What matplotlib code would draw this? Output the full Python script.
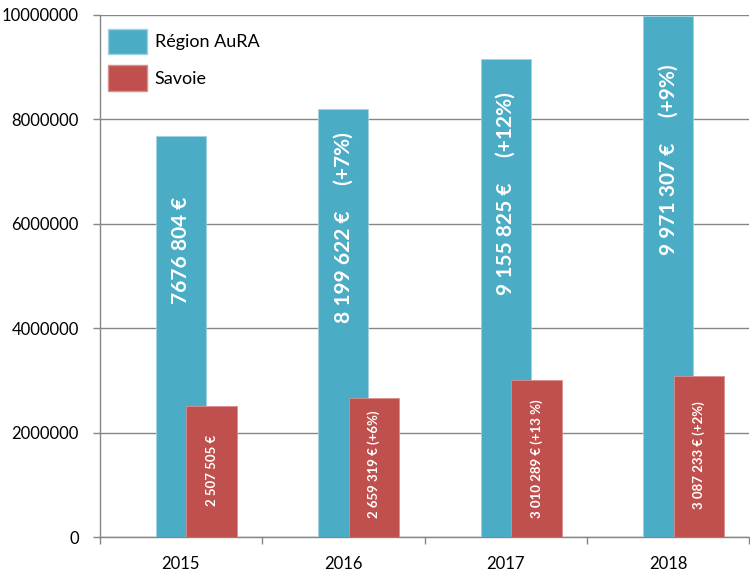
import matplotlib
matplotlib.use("Agg")
import matplotlib.pyplot as plt
from matplotlib.patches import Patch
import numpy as np

plt.rcParams['font.family'] = ['Lato', 'DejaVu Sans']

years = ['2015', '2016', '2017', '2018']
aura = [7676804, 8199622, 9155825, 9971307]
savoie = [2507505, 2659319, 3010289, 3087233]
aura_labels = ['7676 804 €', '8 199 622 €     (+7%)', '9 155 825 €     (+12%)', '9 971 307 €     (+9%)']
savoie_labels = ['2 507 505 €', '2 659 319 € (+6%)', '3 010 289 € (+13 %)', '3 087 233 € (+2%)']
# vertical centre of each rotated label, in data units
aura_label_y = [5500000, 5920000, 6570000, 7220000]
savoie_label_y = [1280000, 1400000, 1500000, 1570000]

blue = '#4BACC6'
red = '#C0504D'
grey = '#868686'

fig = plt.figure(figsize=(7.5, 5.76), dpi=100)
ax = fig.add_axes([0.1327, 0.0677, 0.8666, 0.9063])

x = np.arange(len(years))
w = 0.31
off = 0.19
ax.bar(x, aura, width=w, color=blue, edgecolor='#9fd3e0', linewidth=0.6, zorder=3)
ax.bar(x + off, savoie, width=w, color=red, edgecolor='#d88f8d', linewidth=0.6, zorder=4)

for i in range(len(years)):
    ax.text(x[i], aura_label_y[i], aura_labels[i], rotation=90, ha='center', va='center',
            color='white', fontsize=15, fontweight='bold', zorder=5)
    ax.text(x[i] + off, savoie_label_y[i], savoie_labels[i], rotation=90, ha='center', va='center',
            color='white', fontsize=9.5, fontweight='bold', zorder=5)

ax.set_xlim(-0.5, 3.5)
ax.set_ylim(0, 10000000)
ax.set_yticks(np.arange(0, 10000001, 2000000))
ax.set_yticklabels(['%d' % v for v in np.arange(0, 10000001, 2000000)], fontsize=12)
ax.set_xticks(x)
ax.set_xticklabels(years, fontsize=12)
ax.set_xticks(np.arange(-0.5, 4.0, 1.0), minor=True)
ax.tick_params(axis='x', which='major', length=0, pad=14)
ax.tick_params(axis='x', which='minor', length=5, color=grey, width=1)
ax.tick_params(axis='y', length=5, color=grey, width=1, pad=10)

ax.yaxis.grid(True, color=grey, linewidth=1)
ax.set_axisbelow(True)
for s in ['top', 'right']:
    ax.spines[s].set_visible(False)
for s in ['left', 'bottom']:
    ax.spines[s].set_color(grey)
    ax.spines[s].set_linewidth(1)

handles = [Patch(facecolor=blue, edgecolor='#9fd3e0', label='Région AuRA'),
           Patch(facecolor=red, edgecolor='#d88f8d', label='Savoie')]
ax.legend(handles=handles, loc='upper left', bbox_to_anchor=(-0.012, 1.005), frameon=False,
          fontsize=13, handlelength=2.15, handleheight=1.8, handletextpad=0.45,
          labelspacing=0.6, borderaxespad=0.5)

fig.savefig('out.png', dpi=100)
